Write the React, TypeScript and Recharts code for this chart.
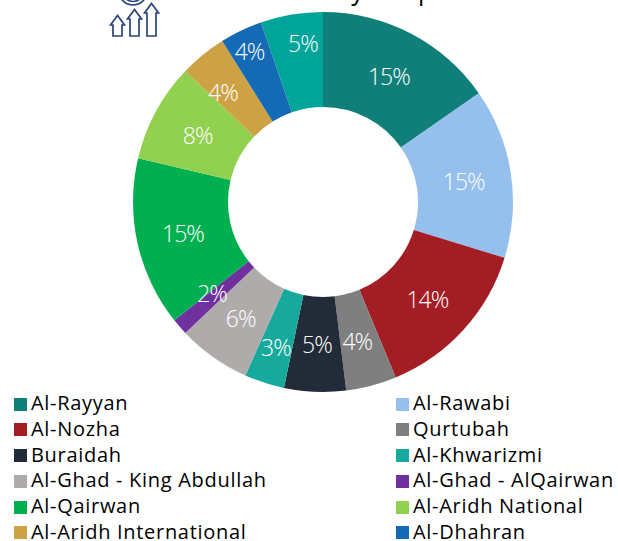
import React from "react";
import { PieChart, Pie, Cell } from "recharts";

const names = ["Al-Rayyan","Al-Rawabi","Al-Nozha","Qurtubah","Buraidah","Al-Khwarizmi","Al-Ghad - King Abdullah","Al-Ghad - AlQairwan","Al-Qairwan","Al-Aridh National","Al-Aridh International","Al-Dhahran","Al-Khaleej"];
const shares = [15.3,14.45,14,4.3,5.25,3.4,6.2,1.4,14.4,8.4,4,3.6,5.3];
const labels = ["15%","15%","14%","4%","5%","3%","6%","2%","15%","8%","4%","4%","5%"];
const colors = ["#107F79","#95BFEC","#A31D24","#7F7F7F","#222B38","#17AA9C","#AFABAB","#7030A0","#00B050","#92D050","#CCA244","#156AB5","#00A499"];
const labelNudgeX = [0,0,-1,-2,0,-3,0,-3.5,-1,0,-10,-12,3.5];
const labelNudgeY = [0,1,1,1,0,9.5,0,-2.5,0,1,0,-22,-18.5];
const legendRows = [[0,1],[2,3],[4,5],[6,7],[8,9],[10,11]];
const FONT = "'Open Sans', sans-serif";
const data = names.map((name, i) => ({ name, value: shares[i], label: labels[i], idx: i }));

const renderLabel = (p: any) => {
  const R = Math.PI / 180;
  const r = p.innerRadius + (p.outerRadius - p.innerRadius) * 0.5;
  const i = p.payload.idx;
  const x = p.cx + r * Math.cos(-p.midAngle * R) + labelNudgeX[i];
  const y = p.cy + r * Math.sin(-p.midAngle * R) + labelNudgeY[i];
  return <text x={x} y={y} fill="#fff" textAnchor="middle" dominantBaseline="central" fontFamily={FONT} fontWeight={300} fontSize={23} style={{letterSpacing:-1}}>{p.payload.label}</text>;
};

const arrows = [
  "M113 36V25H110.500L117.500 15.500 124.500 25H122V36Z",
  "M130 36V19H127.500L134.500 9.500 141.500 19H139V36Z",
  "M147 36V13H144.500L151.500 3.500 158.500 13H156V36Z",
];

export default function App() {
  return (
    <div style={{ position: "absolute", left: 0, top: 0, width: 618, height: 541, overflow: "hidden", background: "#fff" }}>
      <PieChart width={618} height={541} margin={{ top: 0, right: 0, bottom: 0, left: 0 }} style={{ position: "absolute", left: 0, top: 0 }}>
        <Pie data={data} dataKey="value" cx={323} cy={202} innerRadius={95} outerRadius={190} startAngle={90} endAngle={-270} stroke="none" label={renderLabel} labelLine={false} isAnimationActive={false}>
          {data.map((d, i) => <Cell key={d.name} fill={colors[i]} />)}
        </Pie>
      </PieChart>
      <svg width={618} height={60} style={{ position: "absolute", left: 0, top: 0 }} fill="none" stroke="#2A4478" strokeWidth={1.7}>
        {arrows.map((d) => <path key={d} d={d} />)}
        <circle cx={133} cy={-9} r={14} />
        <circle cx={133} cy={-9} r={10.500} />
      </svg>
      <div style={{ position: "absolute", left: 236, top: -30, fontFamily: FONT, fontSize: 25, lineHeight: "40px", letterSpacing: -1, color: "#000", whiteSpace: "nowrap" }}>Students by Campus</div>
      {legendRows.map((row, r) => row.map((idx, col) => (
        <div key={idx} style={{ position: "absolute", left: col === 0 ? 14 : 396, top: 394 + r * 25.75, display: "flex", alignItems: "center", height: 18, fontFamily: FONT, fontSize: 20, lineHeight: "18px", letterSpacing: 0.7, color: "#000", whiteSpace: "nowrap" }}>
          <span style={{ display: "inline-block", width: 13, height: 13, background: colors[idx], marginRight: 4, position: "relative", top: 1 }} />
          {names[idx]}
        </div>
      )))}
    </div>
  );
}
